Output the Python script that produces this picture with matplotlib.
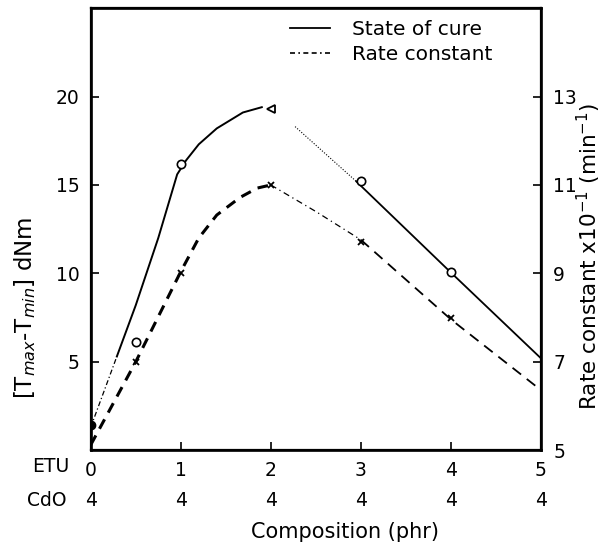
import numpy as np
import matplotlib
matplotlib.use('Agg')
from matplotlib import pyplot as plt
from matplotlib.lines import Line2D

# measured points (ETU content, phr)
comp = [0, 0.5, 1, 2, 3, 4, 5]
cure = [1.4, 6.1, 16.2, 19.3, 15.2, 10.1, 5.2]      # [Tmax-Tmin] dNm
rate = [5.1, 7.0, 9.0, 11.0, 9.7, 8.0, 6.4]         # rate constant x10^-1 min^-1

# hand-drawn curves through the points
cure_cx = [0, 0.29, 0.5, 0.75, 0.96, 1.06, 1.2, 1.4, 1.69, 1.9, 2.27, 2.95, 3.99, 5.0]
cure_cy = [1.3, 5.3, 8.2, 12.0, 15.6, 16.4, 17.3, 18.2, 19.1, 19.4, 18.3, 15.2, 10.1, 5.2]
rate_cx = [0, 0.5, 1.0, 1.2, 1.4, 1.66, 1.85, 2.0, 2.5, 3.0, 4.0, 5.0]
rate_cy = [5.12, 7.0, 9.04, 9.8, 10.32, 10.72, 10.93, 11.0, 10.4, 9.76, 7.96, 6.36]

etu_labels = ['0', '1', '2', '3', '4', '5']
cdo_labels = ['4', '4', '4', '4', '4', '4']

fs = 13.5
fig = plt.figure(figsize=(6.05, 5.45), dpi=100)
ax = fig.add_axes([0.150, 0.174, 0.744, 0.811])
ax2 = ax.twinx()

# state of cure (left axis)
ax.plot(cure_cx[0:2], cure_cy[0:2], color='k', lw=0.9, ls=(0, (4, 2, 1, 2)))
ax.plot(cure_cx[1:10], cure_cy[1:10], color='k', lw=1.4)
ax.plot(cure_cx[10:12], cure_cy[10:12], color='k', lw=0.8, ls=(0, (1, 1.5)))
ax.plot(cure_cx[11:], cure_cy[11:], color='k', lw=1.3)
ax.plot(comp[0], cure[0], 'o', color='k', ms=6)
ax.plot(comp[1:3] + comp[4:6], cure[1:3] + cure[4:6], 'o', mfc='white', mec='k', mew=1.2, ms=6)
ax.plot(comp[3], cure[3], '<', mfc='white', mec='k', mew=1.3, ms=6)

# rate constant (right axis)
ax2.plot(rate_cx[0:8], rate_cy[0:8], color='k', lw=2.2, ls=(0, (3.5, 2.5)))
ax2.plot(rate_cx[7:10], rate_cy[7:10], color='k', lw=0.9, ls=(0, (5, 3, 1, 3)))
ax2.plot(rate_cx[9:], rate_cy[9:], color='k', lw=1.3, ls=(0, (6, 4)))
ax2.plot(comp[1:6], rate[1:6], 'x', color='k', mew=1.3, ms=5)

ax.set_xlim(0, 5)
ax.set_ylim(0, 25)
ax2.set_ylim(5, 15)
ax.set_yticks([5, 10, 15, 20])
ax2.set_yticks([5, 7, 9, 11, 13])
ax.set_xticks(range(6))
ax.set_xticklabels(etu_labels)

ax.tick_params(axis='both', direction='in', length=6, width=1.2, labelsize=fs)
ax.tick_params(axis='x', pad=8)
ax.tick_params(axis='y', pad=8)
ax2.tick_params(axis='y', direction='in', length=6, width=1.2, labelsize=fs, pad=9)

for sp in ax.spines.values():
    sp.set_linewidth(1.9)
for sp in ax2.spines.values():
    sp.set_linewidth(1.6)

# second row of composition labels (CdO)
xt = ax.get_xaxis_transform()
for x, lab in zip(range(6), cdo_labels):
    ax.text(x, -0.113, lab, transform=xt, ha='center', va='center', fontsize=fs)
fig.text(51 / 605, 1 - 467 / 545, 'ETU', ha='center', va='center', fontsize=fs)
fig.text(47 / 605, 1 - 500 / 545, 'CdO', ha='center', va='center', fontsize=fs)

fig.text(345 / 605, 1 - 532 / 545, 'Composition (phr)', ha='center', va='center', fontsize=15)
fig.text(25 / 605, 1 - 308 / 545, '[T$_{max}$-T$_{min}$] dNm', rotation=90,
         ha='center', va='center', fontsize=16.5)
fig.text(589 / 605, 1 - 256 / 545, 'Rate constant x10$^{-1}$ (min$^{-1}$)', rotation=90,
         ha='center', va='center', fontsize=15.5)

handles = [Line2D([], [], color='k', lw=1.3),
           Line2D([], [], color='k', lw=1.2, ls=(0, (3, 2, 1, 2, 3, 2)))]
fig.legend(handles, ['State of cure', 'Rate constant'], loc='upper left',
           bbox_to_anchor=(290 / 605, 1 - 20 / 545), frameon=False, fontsize=14.5,
           handlelength=2.0, handletextpad=1.1, labelspacing=0.3,
           borderpad=0, borderaxespad=0)

fig.savefig('out.png', dpi=100)
